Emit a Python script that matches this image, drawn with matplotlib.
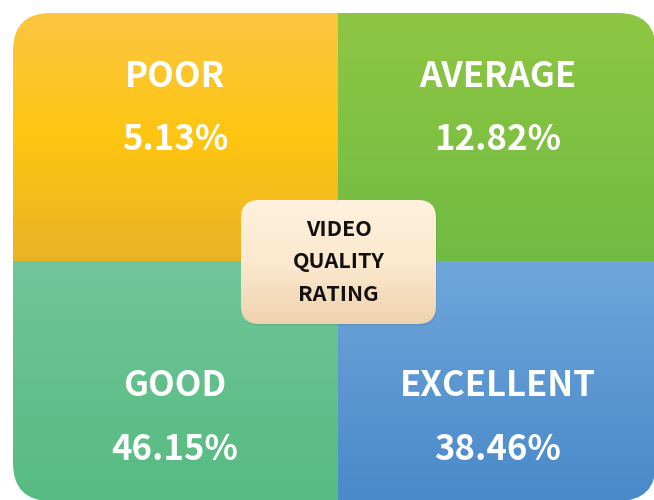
import numpy as np
import matplotlib
matplotlib.use("Agg")
import matplotlib.pyplot as plt
from matplotlib.patches import FancyBboxPatch
from matplotlib.colors import LinearSegmentedColormap

# Ratings and their shares (percent)
categories = ["POOR", "AVERAGE", "GOOD", "EXCELLENT"]
shares = [5.13, 12.82, 46.15, 38.46]
center_lines = ["VIDEO", "QUALITY", "RATING"]

# top -> middle -> bottom gradient stops for each quadrant
gradients = [
    ["#FCC642", "#FFC512", "#EAB326"],
    ["#8EC642", "#80C143", "#70BB45"],
    ["#72C69A", "#63C08C", "#57BB81"],
    ["#6FA7DA", "#5C97D2", "#4A89CA"],
]

W, H = 654, 500
fig = plt.figure(figsize=(W / 100, H / 100), dpi=100)
ax = fig.add_axes([0, 0, 1, 1])
ax.set_xlim(0, W)
ax.set_ylim(H, 0)
ax.axis("off")

# outer rounded box, split into four quadrants
x0, x1, y0, y1 = 13, 656, 13, 501
xm, ym = 338, 261
outer = FancyBboxPatch((x0, y0), x1 - x0, y1 - y0,
                       boxstyle="round,pad=0,rounding_size=38",
                       fc="none", ec="none")
ax.add_patch(outer)

cells = [(x0, xm, y0, ym), (xm, x1, y0, ym), (x0, xm, ym, y1), (xm, x1, ym, y1)]
text_x = [175, 498, 175, 498]
name_y = [87, 87, 396.5, 396.5]
val_y = [150, 150, 459.5, 459.5]
grad = np.linspace(0, 1, 256).reshape(-1, 1)
for (a, b, c, d), stops in zip(cells, gradients):
    cmap = LinearSegmentedColormap.from_list("g", stops)
    im = ax.imshow(grad, cmap=cmap, aspect="auto", extent=(a, b, d, c),
                   interpolation="bilinear", zorder=1)
    im.set_clip_path(outer)

font = ["Noto Sans CJK SC", "DejaVu Sans"]
for i, (name, val) in enumerate(zip(categories, shares)):
    ax.text(text_x[i], name_y[i], name, color="white", fontsize=25,
            fontweight="bold", family=font, ha="center", va="baseline", zorder=3)
    ax.text(text_x[i], val_y[i], f"{val:.2f}%", color="white", fontsize=25,
            fontweight="bold", family=font, ha="center", va="baseline", zorder=3)

# centre label box with soft gradient
bx0, bx1, by0, by1 = 241, 436, 200, 324
shadow = FancyBboxPatch((bx0 + 1, by0 + 2), bx1 - bx0, by1 - by0,
                        boxstyle="round,pad=0,rounding_size=18",
                        fc="#000000", alpha=0.06, ec="none", zorder=3)
ax.add_patch(shadow)
box = FancyBboxPatch((bx0, by0), bx1 - bx0, by1 - by0,
                     boxstyle="round,pad=0,rounding_size=18",
                     fc="none", ec="none", zorder=4)
ax.add_patch(box)
bcmap = LinearSegmentedColormap.from_list("c", ["#FFF1DE", "#FCE9CF", "#EED3AE"])
bim = ax.imshow(grad, cmap=bcmap, aspect="auto", extent=(bx0, bx1, by1, by0),
                interpolation="bilinear", zorder=4)
bim.set_clip_path(box)
for line, by in zip(center_lines, [236, 268.5, 301]):
    ax.text(338.5, by, line, color="#111111", fontsize=15.5, fontweight="bold",
            family=font, ha="center", va="baseline", zorder=5)

fig.savefig("out.png", dpi=100)
